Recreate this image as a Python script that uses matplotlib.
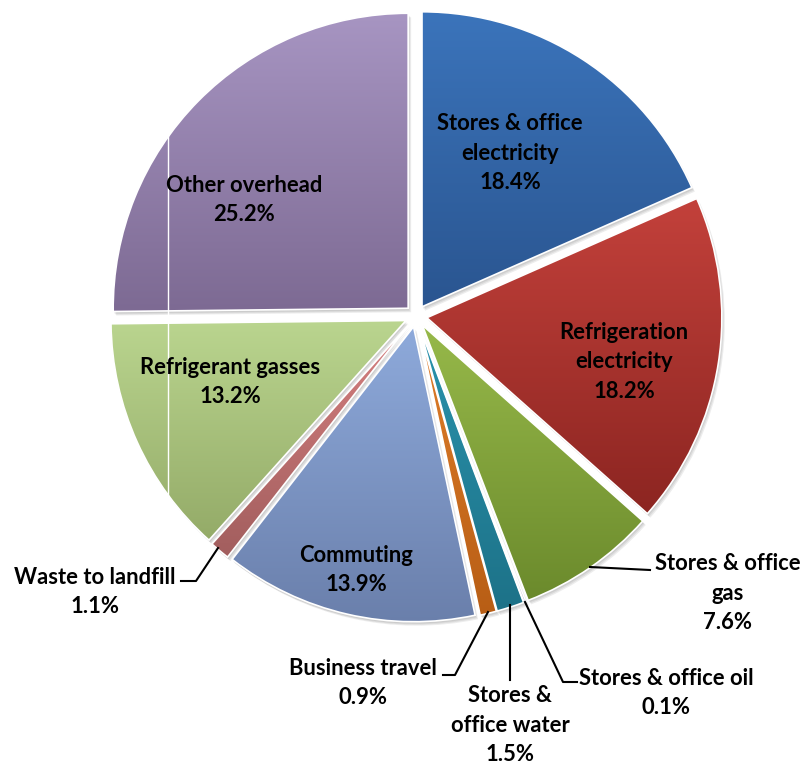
import numpy as np
import matplotlib
matplotlib.use("Agg")
import matplotlib.pyplot as plt
from matplotlib.colors import LinearSegmentedColormap

# carbon footprint breakdown, percent of total
labels = ["Stores & office\nelectricity", "Refrigeration\nelectricity",
          "Stores & office\ngas", "Stores & office oil",
          "Stores &\noffice water", "Business travel", "Commuting",
          "Waste to landfill", "Refrigerant gasses", "Other overhead"]
values = [18.4, 18.2, 7.6, 0.1, 1.5, 0.9, 13.9, 1.1, 13.2, 25.2]

# (top, bottom) colours for each slice's vertical gradient
top_colors = ["#3b74bb", "#c3413b", "#97b94a", "#7b5fa0", "#2a93ad",
              "#e07e2a", "#8eaadb", "#d68080", "#bad58f", "#a795c2"]
bottom_colors = ["#2a5590", "#8c2521", "#6b8a2c", "#5e467e", "#1d7288",
                 "#b85e15", "#6a7fab", "#a25e5e", "#94ab68", "#7d6a93"]

W, H = 803, 767


def py(y):
    # screen-style y (from top) to axes y
    return H - y


plt.rcParams['font.family'] = ['Lato', 'DejaVu Sans']
fig = plt.figure(figsize=(W / 100, H / 100), dpi=100)
ax = fig.add_axes([0, 0, 1, 1])

center = (416, py(316))
radius = 295
explode = [11] * len(values)   # pie() offsets in data units

# soft drop shadow under the slices
for dx, dy in [(1, -2), (2, -3), (3, -4)]:
    ax.pie(values, explode=explode, startangle=90, counterclock=False,
           center=(center[0] + dx, center[1] + dy), radius=radius,
           wedgeprops=dict(linewidth=0, facecolor="#000000", alpha=0.07))

wedges, _ = ax.pie(values, explode=explode, startangle=90, counterclock=False,
                   center=center, radius=radius,
                   wedgeprops=dict(linewidth=1.2, edgecolor="white"))

grad = np.linspace(0, 1, 256).reshape(-1, 1)
for w, c0, c1 in zip(wedges, top_colors, bottom_colors):
    verts = w.get_path().vertices
    x0, y0 = verts.min(axis=0)
    x1, y1 = verts.max(axis=0)
    cmap = LinearSegmentedColormap.from_list("g", [c1, c0])
    im = ax.imshow(grad, cmap=cmap, extent=(x0, x1, y0, y1), origin="lower",
                   aspect="auto", interpolation="bicubic", zorder=w.get_zorder() + 0.1)
    im.set_clip_path(w)
    w.set_zorder(w.get_zorder() + 0.2)
    w.set_facecolor("none")

# stray white rule across the left slices
ax.plot([168, 168], [py(133), py(505)], color="white", lw=1, zorder=5)

fs = 15.8
inside = {0: (510, 153), 1: (624, 362), 6: (356, 570), 8: (230, 382), 9: (244, 200)}
outside = {2: (728, 593), 3: (666, 693), 4: (510, 725), 5: (363, 683), 7: (95, 592)}
for i, (x, y) in list(inside.items()) + list(outside.items()):
    ax.text(x, py(y), f"{labels[i]}\n{values[i]:.1f}%", ha="center", va="center",
            fontsize=fs, fontweight="bold", color="black", linespacing=1.5, zorder=6)

# leader lines for the thin slices
leaders = [
    [(590, 567), (650, 570)],
    [(525, 602), (563, 682), (577, 682)],
    [(510, 605), (510, 680)],
    [(488, 612), (455, 675), (443, 675)],
    [(218, 548), (196, 581), (181, 581)],
]
for pts in leaders:
    xs = [p[0] for p in pts]
    ys = [py(p[1]) for p in pts]
    ax.plot(xs, ys, color="black", lw=1.5, zorder=6)

ax.set_xlim(0, W)
ax.set_ylim(0, H)
ax.set_aspect("auto")
ax.axis("off")
fig.savefig("out.png", dpi=100, facecolor="white")
